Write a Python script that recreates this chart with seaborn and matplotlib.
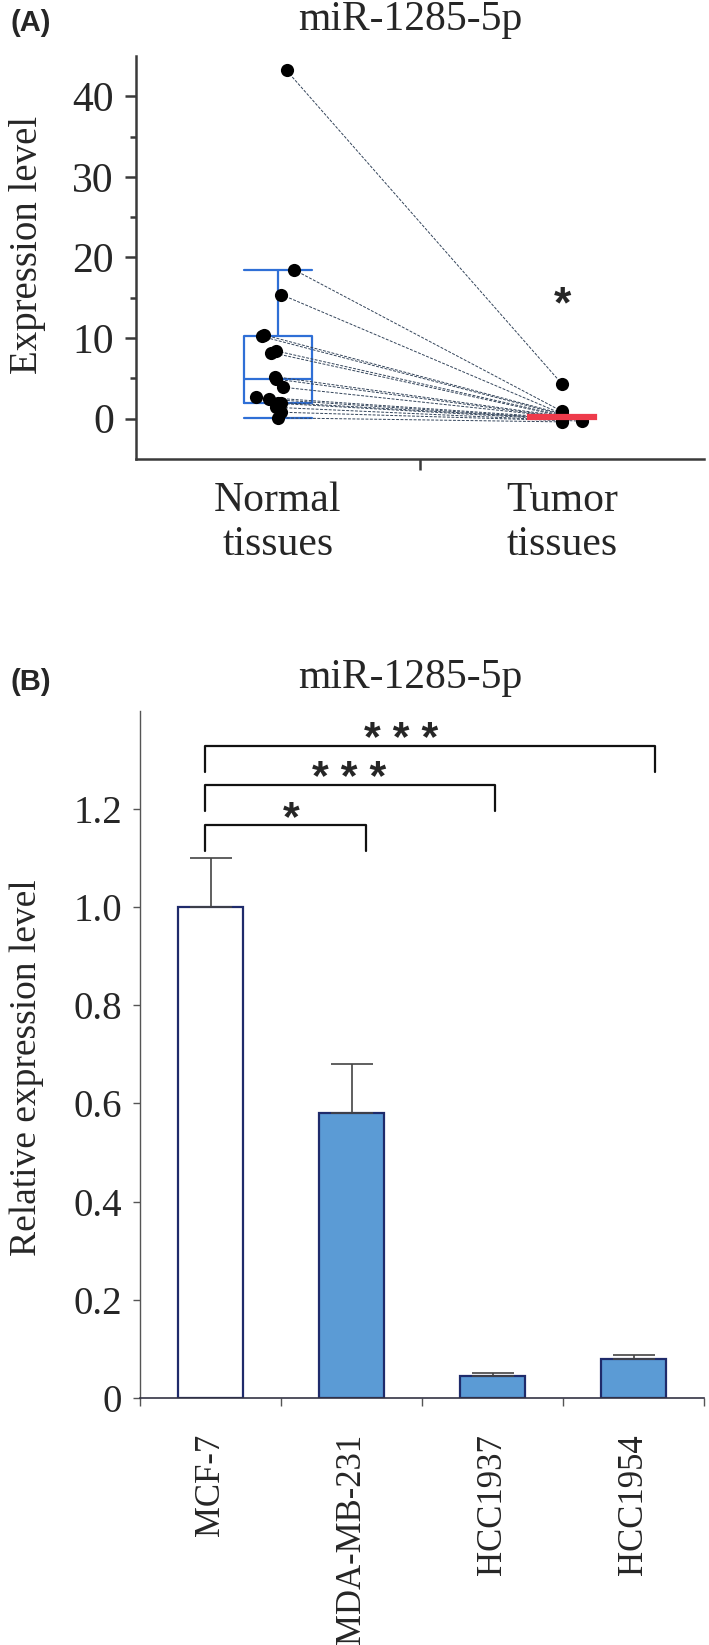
import numpy as np
import pandas as pd
import seaborn as sns
import matplotlib.pyplot as plt

sns.set_style("ticks")
plt.rcParams['font.family'] = ['Liberation Serif', 'DejaVu Serif']

# Panel A : paired tissue values (Normal -> Tumor)
groups = ["Normal", "Tumor"]
group_labels = ["Normal\ntissues", "Tumor\ntissues"]
normal_vals = [43.2, 18.5, 15.4, 10.4, 10.2, 8.4, 8.2, 5.2, 4.9, 3.9, 2.7, 2.4, 2.0, 1.9, 1.4, 0.8, 0.1]
normal_jit = [0.03, 0.055, 0.011, -0.05, -0.057, -0.006, -0.024, -0.01, -0.006, 0.017, -0.076, -0.03, 0.011, 0.0, -0.006, 0.01, 0.0]
tumor_vals = [4.3, 0.9, 0.6, 0.6, 0.5, 0.4, 0.3, 0.3, 0.2, 0.2, 0.1, 0.0, 0.0, -0.1, -0.2, -0.3, -0.4]
tumor_jit = [0.0, 0.0, 0.0, 0.0, 0.0, 0.0, 0.0, 0.0, 0.0, 0.0, 0.0, 0.0, 0.0, 0.0, 0.0, 0.07, 0.0]

# Panel B : cell lines
cells = ["MCF-7", "MDA-MB-231", "HCC1937", "HCC1954"]
rel_expr = [1.0, 0.58, 0.045, 0.079]
rel_err = [0.10, 0.10, 0.006, 0.008]
# significance brackets: (x left, x right, height, label, label x)
brackets = [(-0.04, 1.10, 1.167, "*", 0.57),
            (-0.04, 2.02, 1.248, "* * *", 0.98),
            (-0.04, 3.15, 1.328, "* * *", 1.35)]

fig = plt.figure(figsize=(7.09, 16.45), dpi=100)
axA = fig.add_axes([0.1918, 0.7210, 0.8012, 0.2450])
axB = fig.add_axes([0.1975, 0.1502, 0.7955, 0.4178])

blue = "#2f6fd6"
red = "#ee3b4b"
spine_col = "#3a3a3a"

# ---------- panel A ----------
df_a = pd.DataFrame({"group": ["Normal"] * len(normal_vals) + ["Tumor"] * len(tumor_vals),
                     "value": normal_vals + tumor_vals})
sns.boxplot(data=df_a[df_a.group == "Normal"], x="group", y="value", order=groups,
            color=blue, fill=False, width=0.24, showfliers=False, linewidth=1.6,
            capwidths=0.24, ax=axA)
sns.boxplot(data=df_a[df_a.group == "Tumor"], x="group", y="value", order=groups,
            color=red, linecolor=red, fill=True, width=0.24, showfliers=False,
            linewidth=1.6, capwidths=0.0, saturation=1, ax=axA)

for n, nj, t, tj in zip(normal_vals, normal_jit, tumor_vals, tumor_jit):
    axA.plot([0 + nj, 1 + tj], [n, t], ls=(0, (3, 1.5)), lw=0.7, color="#33445a", zorder=3)

axA.scatter(np.array(normal_jit), normal_vals, s=90, color="black", zorder=4, linewidths=0)
axA.scatter(1 + np.array(tumor_jit), tumor_vals, s=90, color="black", zorder=4, linewidths=0)
for p in axA.patches:
    p.set_zorder(5)

axA.text(1, 14.0, "*", ha="center", va="center", fontsize=32, fontweight="bold",
         family="Liberation Sans")

axA.set_xlim(-0.5, 1.5)
axA.set_ylim(-5, 45)
axA.set_yticks([0, 10, 20, 30, 40])
axA.set_yticks([5, 15, 25, 35], minor=True)
axA.set_xticks([0, 1], group_labels)
axA.set_xticks([0.5], minor=True)
axA.tick_params(axis="y", which="major", length=8, width=1.8, labelsize=30, pad=8, color=spine_col)
axA.tick_params(axis="y", which="minor", length=4, width=1.8, color=spine_col)
axA.tick_params(axis="x", which="major", length=0, labelsize=30, pad=16)
axA.tick_params(axis="x", which="minor", length=8, width=1.8, color=spine_col)
sns.despine(ax=axA)
for s in ["left", "bottom"]:
    axA.spines[s].set_linewidth(1.8)
    axA.spines[s].set_color(spine_col)
axA.set_xlabel("")
axA.set_ylabel("Expression level", fontsize=28)
axA.yaxis.set_label_coords(-0.158, 0.53)
fig.text(410 / 709, 1 - 30 / 1645, "miR-1285-5p", ha="center", va="baseline", fontsize=30)
fig.text(10 / 709, 1 - 31 / 1645, "(A)", ha="left", va="baseline", fontsize=21,
         fontweight="bold", family="Liberation Sans")

# ---------- panel B ----------
sns.barplot(x=cells, y=rel_expr, hue=cells, palette=["white", "#5b9bd5", "#5b9bd5", "#5b9bd5"],
            legend=False, width=0.46, edgecolor="#1f2b6b", linewidth=1.6, saturation=1, ax=axB)
axB.errorbar(range(len(cells)), rel_expr, yerr=[np.zeros(len(cells)), rel_err], fmt="none",
             ecolor="#444444", elinewidth=1.2, capsize=15, capthick=1.2, zorder=1)

for x0, x1, h, lab, lx in brackets:
    drop = 0.052
    axB.plot([x0, x0, x1, x1], [h - drop, h, h, h - drop], color="#111111", lw=1.6, clip_on=False)
    axB.text(lx, h - 0.01, lab, ha="center", va="baseline",
             fontsize=31, fontweight="bold", family="Liberation Sans")

axB.set_xlim(-0.5, 3.5)
axB.set_ylim(0, 1.4)
axB.set_yticks([0, 0.2, 0.4, 0.6, 0.8, 1.0, 1.2], ["0", "0.2", "0.4", "0.6", "0.8", "1.0", "1.2"])
axB.set_xticks(range(len(cells)), cells, rotation=90)
axB.set_xticks([-0.5, 0.5, 1.5, 2.5, 3.5], minor=True)
axB.tick_params(axis="y", length=5, width=1.0, labelsize=28, pad=8, color="#555555")
axB.tick_params(axis="x", which="major", length=0, labelsize=25, pad=26)
axB.tick_params(axis="x", which="minor", length=6, width=1.0, color="#555555")
sns.despine(ax=axB)
axB.spines["left"].set_linewidth(1.0)
axB.spines["left"].set_color("#555555")
axB.spines["bottom"].set_linewidth(1.2)
axB.spines["bottom"].set_color("#333344")
axB.set_ylabel("Relative expression level", fontsize=27)
axB.yaxis.set_label_coords(-0.17, 0.48)
fig.text(410 / 709, 1 - 688 / 1645, "miR-1285-5p", ha="center", va="baseline", fontsize=30)
fig.text(10 / 709, 1 - 690 / 1645, "(B)", ha="left", va="baseline", fontsize=21,
         fontweight="bold", family="Liberation Sans")

fig.savefig("out.png", dpi=100, facecolor="white")
